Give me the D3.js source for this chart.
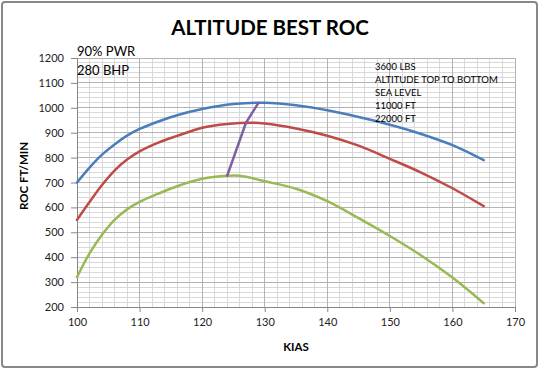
<!DOCTYPE html>
<html><head><meta charset="utf-8">
<script src="https://cdn.jsdelivr.net/npm/d3@7"></script>
<style>body{margin:0;background:#fff}svg{display:block}text{font-family:Lato,"Open Sans",sans-serif}</style>
</head><body><svg id="c" width="540" height="370"></svg>
<script>
// Data
const titleText = "ALTITUDE BEST ROC";
const xTicks = [100,110,120,130,140,150,160,170];
const yTicks = [200,300,400,500,600,700,800,900,1000,1100,1200];
const seaLevelKias = [100,102,104,106,108,110,113,116,120,125,130,135,140,145,150,155,160,165];
const seaLevelRoc  = [700,760,812,853,888,915,945,970,995,1015,1020,1010,990,963,932,895,850,790];
const ft11000Kias = [100,102,104,106,108,110,113,116,120,124,128,130,135,140,145,150,155,160,165];
const ft11000Roc  = [550,622,690,748,792,825,860,887,920,935,940,937,917,888,848,795,740,677,605];
const ft22000Kias = [100,102,104,106,108,110,113,116,120,124,126,130,135,140,145,150,155,160,165];
const ft22000Roc  = [320,415,490,550,592,622,655,685,715,727,727,705,675,625,557,485,407,318,215];
const bestKias = [124,127,129];
const bestRoc  = [727,940,1020];
const noteLines = ["3600 LBS","ALTITUDE TOP TO BOTTOM","SEA LEVEL","11000 FT","22000 FT"];
const powerLines = ["90% PWR","280 BHP"];

const svg = d3.select("#c");
const x = d3.scaleLinear().domain([100,170]).range([77,515]);
const y = d3.scaleLinear().domain([200,1200]).range([307,58]);

svg.append("rect").attr("x",2).attr("y",2).attr("width",535).attr("height",365)
  .attr("fill","#fff").attr("stroke","#888").attr("stroke-width",2).attr("rx",3);

// minor grid
const g = svg.append("g");
d3.range(100,171,2).filter(v=>v%10!==0).forEach(v=>{
  g.append("line").attr("x1",x(v)).attr("x2",x(v)).attr("y1",y(200)).attr("y2",y(1200)).attr("stroke","#d9d9d9").attr("stroke-width",1).attr("shape-rendering","crispEdges");
});
d3.range(200,1201,20).filter(v=>v%100!==0).forEach(v=>{
  g.append("line").attr("x1",x(100)).attr("x2",x(170)).attr("y1",y(v)).attr("y2",y(v)).attr("stroke","#d9d9d9").attr("stroke-width",1).attr("shape-rendering","crispEdges");
});
// major grid
xTicks.forEach(v=>{
  g.append("line").attr("x1",x(v)).attr("x2",x(v)).attr("y1",y(200)).attr("y2",y(1200)).attr("stroke","#b3b3b3").attr("stroke-width",1).attr("shape-rendering","crispEdges");
});
yTicks.forEach(v=>{
  g.append("line").attr("x1",x(100)).attr("x2",x(170)).attr("y1",y(v)).attr("y2",y(v)).attr("stroke","#b3b3b3").attr("stroke-width",1).attr("shape-rendering","crispEdges");
});

// axes
const xAxis = svg.append("g").attr("transform",`translate(0,${y(200)})`)
  .call(d3.axisBottom(x).tickValues(xTicks).tickSize(5).tickPadding(6).tickFormat(d3.format("d")));
const yAxis = svg.append("g").attr("transform",`translate(${x(100)},0)`)
  .call(d3.axisLeft(y).tickValues(yTicks).tickSize(6).tickPadding(7).tickFormat(d3.format("d")));
[xAxis,yAxis].forEach(a=>{
  a.select(".domain").attr("stroke","#868686");
  a.selectAll(".tick line").attr("stroke","#868686");
  a.selectAll(".tick text").attr("fill","#222").style("font-size","11px").style("font-family","Lato");
});

const line = d3.line().x(d=>x(d[0])).y(d=>y(d[1])).curve(d3.curveCatmullRom.alpha(0.5));
const series = [
  [seaLevelKias, seaLevelRoc, "#4a7ebb"],
  [ft11000Kias, ft11000Roc, "#be4b48"],
  [ft22000Kias, ft22000Roc, "#98b954"],
];
series.forEach(([k,r,c])=>{
  svg.append("path").datum(k.map((v,i)=>[v,r[i]])).attr("d",line)
    .attr("fill","none").attr("stroke",c).attr("stroke-width",2.5).attr("stroke-linecap","round");
});
svg.append("path").datum(bestKias.map((v,i)=>[v,bestRoc[i]]))
  .attr("d",d3.line().x(d=>x(d[0])).y(d=>y(d[1])))
  .attr("fill","none").attr("stroke","#7d60a0").attr("stroke-width",2.5).attr("stroke-linecap","round");

// title
svg.append("text").attr("x",270).attr("y",35).attr("text-anchor","middle")
  .style("font-size","20.5px").style("font-weight","bold").attr("fill","#000").text(titleText);

// axis titles
svg.append("text").attr("x",(x(100)+x(170))/2).attr("y",351).attr("text-anchor","middle")
  .style("font-size","11.5px").style("font-weight","bold").attr("fill","#000").text("KIAS");
svg.append("text").attr("transform","translate(28,176) rotate(-90)").attr("text-anchor","middle")
  .style("font-size","11.5px").style("font-weight","bold").attr("fill","#000").text("ROC FT/MIN");

// annotations
powerLines.forEach((t,i)=>{
  svg.append("text").attr("x",77).attr("y",56+i*19).style("font-size","13px").attr("fill","#000").text(t);
});
noteLines.forEach((t,i)=>{
  svg.append("text").attr("x",375).attr("y",69.5+i*13.2).style("font-size","9.5px").attr("fill","#000").text(t);
});
</script></body></html>
